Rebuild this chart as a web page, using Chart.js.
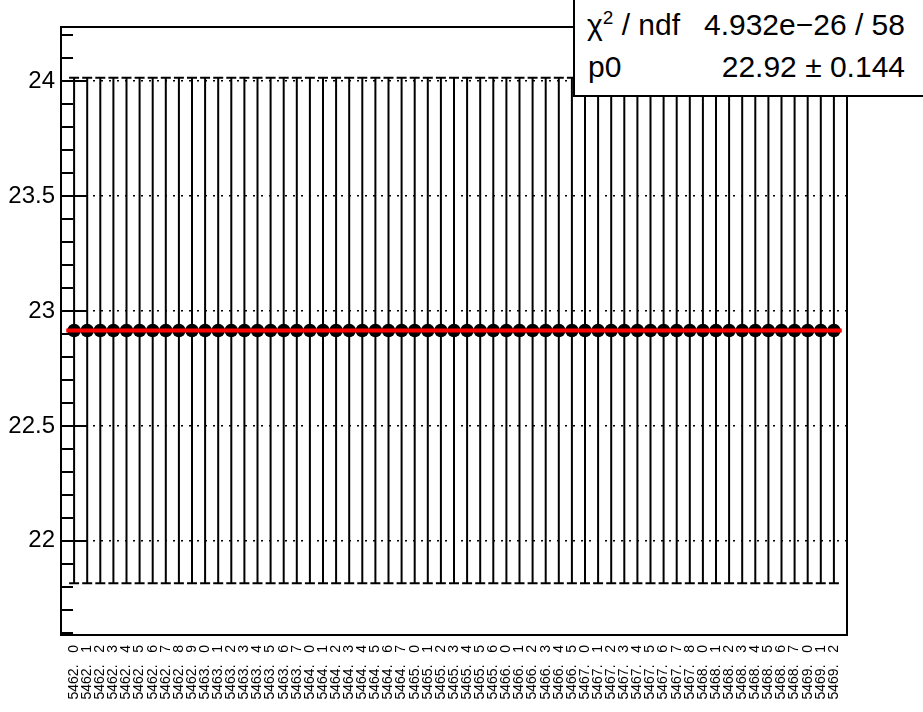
<!DOCTYPE html>
<html>
<head>
<meta charset="utf-8">
<script src="https://cdn.jsdelivr.net/npm/chart.js@4.4.1/dist/chart.umd.min.js"></script>
<style>
  html, body { margin: 0; padding: 0; background: #fff; overflow: hidden; }
  #wrap { position: relative; width: 923px; height: 712px; }
  #stats { position: absolute; left: 573px; top: -2px; width: 370px; height: 99px; border: 2px solid #000; background: #fff; box-sizing: border-box; }
  .st { position: absolute; font-family: 'Liberation Sans', Arial, sans-serif; font-size: 30px; line-height: 30px; color: #000; white-space: pre; }
  .sup { font-size: 19px; position: relative; top: -11px; }
</style>
</head>
<body>
<div id="wrap">
  <canvas id="c" width="923" height="712"></canvas>
  <div id="stats"></div>
  <span class="st" style="left:587px; top:10px">χ<span class="sup">2</span> / ndf</span>
  <span class="st" style="right:18px; top:10px">4.932e−26 / 58</span>
  <span class="st" style="left:588px; top:52px">p0</span>
  <span class="st" style="right:18px; top:52px">22.92 ± 0.144</span>
</div>
<script>
// run labels along the x axis
const categories = [
  '5462.0', '5462.1', '5462.2', '5462.3', '5462.4', '5462.5', '5462.6', '5462.7', '5462.8', '5462.9',
  '5463.0', '5463.1', '5463.2', '5463.3', '5463.4', '5463.5', '5463.6', '5463.7',
  '5464.0', '5464.1', '5464.2', '5464.3', '5464.4', '5464.5', '5464.6', '5464.7',
  '5465.0', '5465.1', '5465.2', '5465.3', '5465.4', '5465.5', '5465.6',
  '5466.0', '5466.1', '5466.2', '5466.3', '5466.4', '5466.5',
  '5467.0', '5467.1', '5467.2', '5467.3', '5467.4', '5467.5', '5467.6', '5467.7', '5467.8',
  '5468.0', '5468.1', '5468.2', '5468.3', '5468.4', '5468.5', '5468.6', '5468.7',
  '5469.0', '5469.1', '5469.2'
];

const values = [
  22.915, 22.915, 22.915, 22.915, 22.915, 22.915, 22.915, 22.915, 22.915, 22.915,
  22.915, 22.915, 22.915, 22.915, 22.915, 22.915, 22.915, 22.915,
  22.915, 22.915, 22.915, 22.915, 22.915, 22.915, 22.915, 22.915,
  22.915, 22.915, 22.915, 22.915, 22.915, 22.915, 22.915,
  22.915, 22.915, 22.915, 22.915, 22.915, 22.915,
  22.915, 22.915, 22.915, 22.915, 22.915, 22.915, 22.915, 22.915, 22.915,
  22.915, 22.915, 22.915, 22.915, 22.915, 22.915, 22.915, 22.915,
  22.915, 22.915, 22.915
];

const errors = [
  1.1, 1.1, 1.1, 1.1, 1.1, 1.1, 1.1, 1.1, 1.1, 1.1,
  1.1, 1.1, 1.1, 1.1, 1.1, 1.1, 1.1, 1.1,
  1.1, 1.1, 1.1, 1.1, 1.1, 1.1, 1.1, 1.1,
  1.1, 1.1, 1.1, 1.1, 1.1, 1.1, 1.1,
  1.1, 1.1, 1.1, 1.1, 1.1, 1.1,
  1.1, 1.1, 1.1, 1.1, 1.1, 1.1, 1.1, 1.1, 1.1,
  1.1, 1.1, 1.1, 1.1, 1.1, 1.1, 1.1, 1.1,
  1.1, 1.1, 1.1
];

// constant fit p0
const fitValue = 22.915;
const fitRange = [0.4, 59.6];

// y axis
const yMin = 21.59;
const yMax = 24.236;
const yMajor = [22, 22.5, 23, 23.5, 24];
const yTickLabels = ['22', '22.5', '23', '23.5', '24'];

const yTicks = [];
for (let k = 216; k <= 242; k++) yTicks.push(k / 10);

function majorIndex(v) {
  return yMajor.findIndex(m => Math.abs(m - v) < 1e-6);
}

const font = "'Liberation Sans', Arial, sans-serif";
Chart.defaults.font.family = font;

// error bars with end caps
const errorBars = {
  id: 'errorBars',
  beforeDatasetsDraw(chart) {
    const { ctx, scales: { x, y } } = chart;
    ctx.save();
    ctx.strokeStyle = '#000';
    ctx.lineWidth = 2;
    values.forEach((v, i) => {
      const px = x.getPixelForValue(i + 1);
      const top = y.getPixelForValue(v + errors[i]);
      const bot = y.getPixelForValue(v - errors[i]);
      ctx.beginPath();
      ctx.moveTo(px, top); ctx.lineTo(px, bot);
      ctx.moveTo(px - 5, top); ctx.lineTo(px + 5, top);
      ctx.moveTo(px - 5, bot); ctx.lineTo(px + 5, bot);
      ctx.stroke();
    });
    ctx.restore();
  }
};

// frame and inward y ticks
const frame = {
  id: 'frame',
  afterDraw(chart) {
    const { ctx, chartArea: a, scales: { y } } = chart;
    ctx.save();
    ctx.strokeStyle = '#000';
    ctx.lineWidth = 2;
    y.ticks.forEach(t => {
      const py = Math.round(y.getPixelForValue(t.value));
      const len = majorIndex(t.value) >= 0 ? 26 : 12;
      ctx.beginPath();
      ctx.moveTo(a.left, py); ctx.lineTo(a.left + len, py);
      ctx.stroke();
    });
    ctx.strokeRect(a.left, a.top, a.right - a.left, a.bottom - a.top);
    ctx.restore();
  }
};

new Chart(document.getElementById('c'), {
  type: 'scatter',
  data: {
    datasets: [
      {
        type: 'line',
        data: fitRange.map(x => ({ x, y: fitValue })),
        borderColor: '#ff0000',
        borderWidth: 4,
        pointRadius: 0,
        fill: false
      },
      {
        data: values.map((v, i) => ({ x: i + 1, y: v })),
        backgroundColor: '#000',
        borderWidth: 0,
        pointRadius: 6.8
      }
    ]
  },
  options: {
    responsive: false,
    animation: false,
    events: [],
    layout: { padding: { top: 27, right: 76, left: 0, bottom: 0 } },
    plugins: { legend: { display: false }, tooltip: { enabled: false } },
    scales: {
      x: {
        type: 'linear',
        min: 0,
        max: 60,
        afterBuildTicks: s => { s.ticks = categories.map((c, i) => ({ value: i + 1 })); },
        afterFit: s => { s.height = 77; },
        grid: { display: false, drawTicks: false },
        border: { display: false },
        ticks: {
          autoSkip: false,
          minRotation: 90,
          maxRotation: 90,
          padding: 10,
          color: '#000',
          font: { size: 14 },
          callback: (v, i) => {
            const [a, b] = categories[i].split('.');
            return a + '.   ' + b;
          }
        }
      },
      y: {
        type: 'linear',
        min: yMin,
        max: yMax,
        afterBuildTicks: s => { s.ticks = yTicks.map(v => ({ value: v })); },
        afterFit: s => { s.width = 61; },
        grid: {
          drawTicks: false,
          lineWidth: 1.5,
          color: c => (c.tick && majorIndex(c.tick.value) >= 0) ? '#000' : 'rgba(0,0,0,0)'
        },
        border: { display: false, dash: [2, 6] },
        ticks: {
          autoSkip: false,
          padding: 6,
          color: '#000',
          font: { size: 24 },
          callback: v => {
            const k = majorIndex(v);
            return k >= 0 ? yTickLabels[k] : '';
          }
        }
      }
    }
  },
  plugins: [errorBars, frame]
});
</script>
</body>
</html>
